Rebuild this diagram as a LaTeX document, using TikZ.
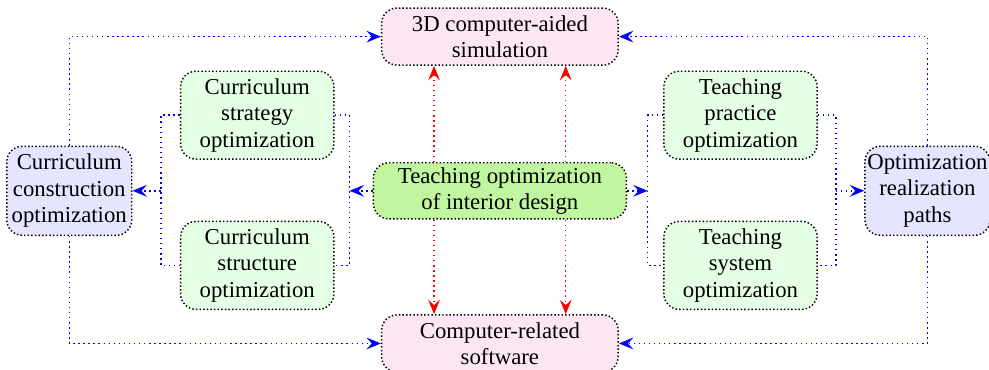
\documentclass[tikz,border=0pt,12pt]{standalone}
\usepackage{fontspec}
\setmainfont{Liberation Serif}
\usetikzlibrary{arrows.meta,calc,positioning}

\begin{document}
\begin{tikzpicture}[
            node distance=7.2mm and 18.5mm,
            box/.style={
                draw=black,
                line width=0.8pt,
                dash pattern=on 0.8pt off 1.2pt,
                rounded corners=3mm,
                align=center,
                font=\rmfamily\fontsize{12.6}{14.6}\selectfont,
                inner sep=1pt
            },
            hub/.style={
                box,
                minimum width=49.2mm,
                minimum height=10.9mm,
                fill={rgb,255:red,192;green,246;blue,160}
            },
            tool/.style={
                box,
                minimum width=46mm,
                minimum height=11.1mm,
                fill=magenta!10
            },
            side/.style={
                box,
                minimum width=24.3mm,
                minimum height=17.3mm,
                fill=blue!10
            },
            part/.style={
                box,
                minimum width=29.8mm,
                minimum height=17.1mm,
                fill=green!10
            },
            flow/.style={-{Stealth[length=8pt,width=6.5pt,inset=3pt]},
                blue, thick, dotted},
            link/.style={blue, thick, dotted},
            dual/.style={-{Stealth[length=8pt,width=6.5pt,inset=3pt]},
                red, thick, dotted}
        ]

            \useasboundingbox (-97.2mm,-34.8mm) rectangle (95.1mm,37.1mm);

            \node[hub] (teaching) at (0,0)
                {Teaching optimization\\of interior design};

            \node[tool, above=18.7mm of teaching] (simulation)
                {3D computer-aided\\simulation};

            \node[tool, below=18.4mm of teaching] (software)
                {Computer-related\\software};

            \node[part, left=7.4mm of teaching, yshift=14.7mm]
                (strategy) {Curriculum\\strategy\\optimization};

            \node[part, left=7.4mm of teaching, yshift=-14.5mm]
                (structure) {Curriculum\\structure\\optimization};

            \node[part, right=7mm of teaching, yshift=14.7mm]
                (practice) {Teaching\\practice\\optimization};

            \node[part, right=7mm of teaching, yshift=-14.5mm]
                (system) {Teaching\\system\\optimization};

            \node[side, left=46.7mm of teaching] (construction)
                {Curriculum\\construction\\optimization};

            \node[side, right=46.1mm of teaching] (realization)
                {Optimization\\realization\\paths};

            % brackets round the four parts
            \draw[link]
                (strategy.west) -- ++(-3.7mm,0) coordinate (lb)
                |- (structure.west);
            \draw[link]
                (strategy.east) -- ++(2.9mm,0) coordinate (cl)
                |- (structure.east);
            \draw[link]
                (practice.west) -- ++(-3mm,0) coordinate (cr)
                |- (system.west);
            \draw[link]
                (practice.east) -- ++(3.5mm,0) coordinate (rb)
                |- (system.east);

            \draw[flow] (lb |- construction.east) -- (construction.east);
            \draw[flow] (teaching.west) -- (cl |- teaching.west);
            \draw[flow] (teaching.east) -- (cr |- teaching.east);
            \draw[flow] (rb |- realization.west) -- (realization.west);

            \draw[flow]
                (construction.north) |- (simulation.west);
            \draw[flow]
                (construction.south) |- (software.west);
            \draw[flow]
                (realization.north) |- (simulation.east);
            \draw[flow]
                (realization.south) |- (software.east);

            \foreach \dx in {-12.8mm, 12.8mm} {
                \draw[dual]
                    ([xshift=\dx]teaching.north) -- ([xshift=\dx]simulation.south);
                \draw[dual]
                    ([xshift=\dx]teaching.south) -- ([xshift=\dx]software.north);
            }

        \end{tikzpicture}
\end{document}
